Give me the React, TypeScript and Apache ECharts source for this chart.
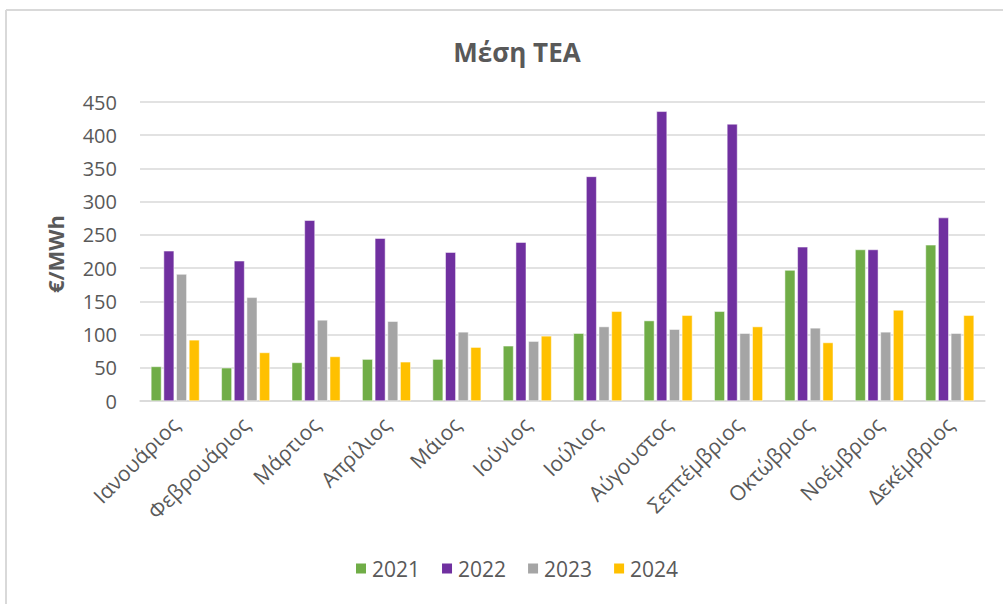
import React, { useEffect, useRef } from "react";
import * as echarts from "echarts";

const months = [
  "Ιανουάριος",
  "Φεβρουάριος",
  "Μάρτιος",
  "Απρίλιος",
  "Μάιος",
  "Ιούνιος",
  "Ιούλιος",
  "Αύγουστος",
  "Σεπτέμβριος",
  "Οκτώβριος",
  "Νοέμβριος",
  "Δεκέμβριος",
];
const years = ["2021", "2022", "2023", "2024"];
const v2021 = [52, 50, 58, 63, 63, 83, 102, 121, 135, 197, 228, 235];
const v2022 = [226, 211, 272, 245, 224, 239, 338, 436, 417, 232, 228, 276];
const v2023 = [191, 156, 122, 120, 104, 90, 112, 108, 102, 110, 104, 102];
const v2024 = [92, 73, 67, 59, 81, 98, 135, 129, 112, 88, 137, 129];
const colors = ["#70AD47", "#7030A0", "#A5A5A5", "#FFC000"];
const title = "Μέση ΤΕΑ";
const yName = "€/MWh";

const FONT = "'Open Sans', 'Noto Sans', sans-serif";
const TXT = "#595959";

export default function App() {
  const ref = useRef<HTMLDivElement>(null);
  useEffect(() => {
    if (!ref.current) return;
    const chart = echarts.init(ref.current, null, { renderer: "svg" });
    const data = [v2021, v2022, v2023, v2024];
    chart.setOption({
      animation: false,
      backgroundColor: "#ffffff",
      textStyle: { fontFamily: FONT },
      title: {
        text: title,
        left: 512,
        top: 34,
        textAlign: "center",
        textStyle: { fontFamily: FONT, fontSize: 26, fontWeight: "bold", color: TXT },
      },
      legend: {
        bottom: 20,
        left: 349,
        icon: "rect",
        itemWidth: 12,
        itemHeight: 12,
        itemGap: 20,
        textStyle: { fontFamily: FONT, fontSize: 21, color: TXT },
        data: years,
      },
      grid: { left: 140, right: 18, top: 102, bottom: 203 },
      xAxis: {
        type: "category",
        data: months,
        axisLine: { lineStyle: { color: "#D9D9D9", width: 1.5 } },
        axisTick: { show: false },
        axisLabel: {
          interval: 0,
          rotate: 45,
          margin: 20,
          fontFamily: FONT,
          fontSize: 21,
          color: TXT,
        },
      },
      yAxis: {
        type: "value",
        min: 0,
        max: 450,
        interval: 50,
        axisLine: { show: false },
        axisTick: { show: false },
        splitLine: { lineStyle: { color: "#D9D9D9", width: 1.5 } },
        axisLabel: { margin: 23, fontFamily: FONT, fontSize: 20, color: TXT },
      },
      graphic: [
        {
          type: "line",
          shape: { x1: 6, y1: 10, x2: 1003, y2: 10 },
          style: { stroke: "#D9D9D9", lineWidth: 2 },
        },
        {
          type: "line",
          shape: { x1: 6, y1: 10, x2: 6, y2: 604 },
          style: { stroke: "#D9D9D9", lineWidth: 2 },
        },
        {
          type: "text",
          x: 55,
          y: 254,
          rotation: Math.PI / 2,
          style: {
            text: yName,
            fontFamily: FONT,
            fontSize: 22,
            fontWeight: "bold",
            fill: TXT,
            align: "center",
            verticalAlign: "middle",
          },
        },
      ],
      series: years.map((y, i) => ({
        name: y,
        type: "bar",
        data: data[i],
        barCategoryGap: "31%",
        barGap: "20%",
        itemStyle: { color: colors[i], borderColor: "#ffffff", borderWidth: 0.5 },
      })),
    });
    return () => chart.dispose();
  }, []);
  return (
    <div
      ref={ref}
      style={{ position: "fixed", left: 0, top: 0, width: 1003, height: 604 }}
    />
  );
}
